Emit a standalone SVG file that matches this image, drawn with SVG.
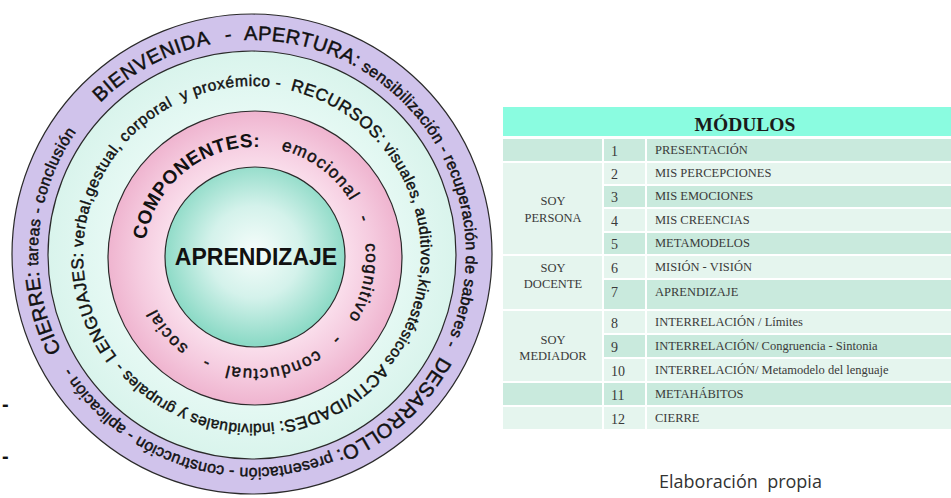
<svg xmlns="http://www.w3.org/2000/svg" width="951" height="498" viewBox="0 0 951 498">
<defs>
<radialGradient id="gTeal" cx="255" cy="252" r="92" gradientUnits="userSpaceOnUse">
<stop offset="0" stop-color="#f6fdfb"/><stop offset="0.5" stop-color="#d4f2eb"/><stop offset="1" stop-color="#8cdac6"/>
</radialGradient>
<radialGradient id="gPink" cx="255" cy="258" r="147" gradientUnits="userSpaceOnUse">
<stop offset="0.6" stop-color="#fadfec"/><stop offset="0.8" stop-color="#f5cbdf"/><stop offset="1" stop-color="#efb4cf"/>
</radialGradient>
<radialGradient id="gMint" cx="252" cy="255" r="204" gradientUnits="userSpaceOnUse">
<stop offset="0.7" stop-color="#e6f9f4"/><stop offset="1" stop-color="#d9f4ec"/>
</radialGradient>
<path id="pOuter" d="M252,468 A214,214 0 1,1 252,40 A214,214 0 1,1 252,468 A214,214 0 1,1 252,40 A214,214 0 1,1 252,468"/>
<path id="pMint" d="M252,424 A169,169 0 1,1 252,86 A169,169 0 1,1 252,424 A169,169 0 1,1 252,86 A169,169 0 1,1 252,424"/>
<path id="pPink" d="M255,369 A111,111 0 1,1 255,147 A111,111 0 1,1 255,369 A111,111 0 1,1 255,147 A111,111 0 1,1 255,369"/>
</defs>
<style>
.ring{stroke:#2a2a2a;stroke-width:1.2}
.c{font-family:"Liberation Sans",Arial,sans-serif;fill:#111111}
.h{stroke:#111111;stroke-width:0.45}
.up{font-size:20px}
.lo{font-size:16px}
.mu{font-size:17px}
.ml{font-size:15.5px}
.pk{font-size:17px;letter-spacing:1.3px}
.t{font-family:"Liberation Serif","Times New Roman",serif;fill:#3a3a3a;font-size:12.5px}
.n{font-family:"Liberation Serif","Times New Roman",serif;fill:#3a3a3a;font-size:14px}
.dk{fill:#c9eadd}
.lt{fill:#e5f5ee}
</style>
<rect width="951" height="498" fill="#ffffff"/>

<g id="ring-outer">
<circle class="ring" cx="252" cy="254" r="240" fill="#d0c3eb"/>
<text class="c h up" letter-spacing="0.6"><textPath href="#pOuter" startOffset="567.3" text-anchor="middle">BIENVENIDA</textPath></text>
<text class="c h up"><textPath href="#pOuter" startOffset="648.8" text-anchor="middle">-</textPath></text>
<text class="c h" letter-spacing="0.3"><textPath href="#pOuter" startOffset="664.1"><tspan class="up">APERTURA:</tspan><tspan class="lo"> sensibilización - recuperación de saberes -</tspan></textPath></text>
<text class="c h" letter-spacing="0.15"><textPath href="#pOuter" startOffset="1114.5"><tspan class="up">DESARROLLO:</tspan><tspan class="lo"> presentación - construcción - aplicación -</tspan></textPath></text>
<text class="c h" letter-spacing="0.4"><textPath href="#pOuter" startOffset="235.3"><tspan class="up">CIERRE:</tspan><tspan class="lo"> tareas - conclusión</tspan></textPath></text>
</g>

<g id="ring-mint">
<circle class="ring" cx="252" cy="255" r="204" fill="url(#gMint)"/>
<text class="c h" letter-spacing="0.2"><textPath href="#pMint" startOffset="914.4"><tspan class="mu">ACTIVIDADES:</tspan><tspan class="ml"> individuales y grupales - </tspan></textPath></text>
<text class="c h" letter-spacing="0.6" xml:space="preserve"><textPath href="#pMint" startOffset="156.3"><tspan class="mu">LENGUAJES:</tspan><tspan class="ml"> verbal,gestual, corporal  y proxémico - </tspan></textPath></text>
<text class="c h" letter-spacing="0.5"><textPath href="#pMint" startOffset="569.3"><tspan class="mu">RECURSOS:</tspan><tspan class="ml"> visuales, auditivos,kinestésicos</tspan></textPath></text>
</g>

<g id="ring-componentes">
<circle class="ring" cx="255" cy="258" r="147" fill="url(#gPink)"/>
<text class="c" font-size="19" font-weight="bold" letter-spacing="0.5"><textPath href="#pPink" startOffset="272.8" text-anchor="middle">COMPONENTES:</textPath></text>
<text class="c h pk"><textPath href="#pPink" startOffset="419.2" text-anchor="middle">emocional</textPath></text>
<text class="c h pk"><textPath href="#pPink" startOffset="484.3" text-anchor="middle">-</textPath></text>
<text class="c h pk"><textPath href="#pPink" startOffset="547.5" text-anchor="middle">cognitivo</textPath></text>
<text class="c h pk"><textPath href="#pPink" startOffset="610.3" text-anchor="middle">-</textPath></text>
<text class="c h pk"><textPath href="#pPink" startOffset="678.4" text-anchor="middle">conductual</textPath></text>
<text class="c h pk"><textPath href="#pPink" startOffset="745.5" text-anchor="middle">-</textPath></text>
<text class="c h pk"><textPath href="#pPink" startOffset="793.7" text-anchor="middle">social</textPath></text>
</g>

<g id="aprendizaje">
<circle class="ring" cx="255" cy="257" r="90" fill="url(#gTeal)"/>
<text class="c" x="256" y="265" font-size="23" font-weight="bold" text-anchor="middle">APRENDIZAJE</text>
</g>

<g id="dashes">
<text class="c" x="2" y="411" font-size="20" font-weight="bold">-</text>
<text class="c" x="2" y="463" font-size="20" font-weight="bold">-</text>
</g>

<g id="table">
<rect x="503" y="107" width="448" height="29" fill="#8afce0"/>
<text x="745" y="131" text-anchor="middle" font-family="Liberation Serif,'Times New Roman',serif" font-weight="bold" font-size="19.5" fill="#1a1a1a">MÓDULOS</text>
<rect class="dk" x="503" y="139" width="99" height="22"/>
<rect class="lt" x="503" y="163" width="99" height="91"/>
<rect class="lt" x="503" y="256" width="99" height="53"/>
<rect class="lt" x="503" y="311" width="99" height="70"/>
<rect class="dk" x="503" y="383" width="99" height="22"/>
<rect class="lt" x="503" y="407" width="99" height="22"/>
<rect class="dk" x="604" y="139" width="41" height="22"/><rect class="dk" x="647" y="139" width="304" height="22"/>
<rect class="lt" x="604" y="163" width="41" height="21"/><rect class="lt" x="647" y="163" width="304" height="21"/>
<rect class="dk" x="604" y="186" width="41" height="21"/><rect class="dk" x="647" y="186" width="304" height="21"/>
<rect class="lt" x="604" y="209" width="41" height="22"/><rect class="lt" x="647" y="209" width="304" height="22"/>
<rect class="dk" x="604" y="233" width="41" height="21"/><rect class="dk" x="647" y="233" width="304" height="21"/>
<rect class="lt" x="604" y="256" width="41" height="22"/><rect class="lt" x="647" y="256" width="304" height="22"/>
<rect class="dk" x="604" y="280" width="41" height="29"/><rect class="dk" x="647" y="280" width="304" height="29"/>
<rect class="lt" x="604" y="311" width="41" height="22"/><rect class="lt" x="647" y="311" width="304" height="22"/>
<rect class="dk" x="604" y="335" width="41" height="22"/><rect class="dk" x="647" y="335" width="304" height="22"/>
<rect class="lt" x="604" y="359" width="41" height="22"/><rect class="lt" x="647" y="359" width="304" height="22"/>
<rect class="dk" x="604" y="383" width="41" height="22"/><rect class="dk" x="647" y="383" width="304" height="22"/>
<rect class="lt" x="604" y="407" width="41" height="22"/><rect class="lt" x="647" y="407" width="304" height="22"/>
<text class="t" x="553" y="205" text-anchor="middle">SOY</text>
<text class="t" x="553" y="222" text-anchor="middle">PERSONA</text>
<text class="t" x="553" y="272" text-anchor="middle">SOY</text>
<text class="t" x="553" y="288" text-anchor="middle">DOCENTE</text>
<text class="t" x="553" y="344" text-anchor="middle">SOY</text>
<text class="t" x="553" y="360" text-anchor="middle">MEDIADOR</text>
<text class="n" x="611" y="156">1</text>
<text class="n" x="611" y="179">2</text>
<text class="n" x="611" y="202">3</text>
<text class="n" x="611" y="226">4</text>
<text class="n" x="611" y="249">5</text>
<text class="n" x="611" y="273">6</text>
<text class="n" x="611" y="297">7</text>
<text class="n" x="611" y="328">8</text>
<text class="n" x="611" y="352">9</text>
<text class="n" x="611" y="376">10</text>
<text class="n" x="611" y="400">11</text>
<text class="n" x="611" y="424">12</text>
<text class="t" x="655" y="154">PRESENTACIÓN</text>
<text class="t" x="655" y="177">MIS PERCEPCIONES</text>
<text class="t" x="655" y="200">MIS EMOCIONES</text>
<text class="t" x="655" y="224">MIS CREENCIAS</text>
<text class="t" x="655" y="247">METAMODELOS</text>
<text class="t" x="655" y="271">MISIÓN - VISIÓN</text>
<text class="t" x="655" y="296">APRENDIZAJE</text>
<text class="t" x="655" y="326">INTERRELACIÓN / Límites</text>
<text class="t" x="655" y="350">INTERRELACIÓN/ Congruencia - Sintonia</text>
<text class="t" x="655" y="374">INTERRELACIÓN/ Metamodelo del lenguaje</text>
<text class="t" x="655" y="398">METAHÁBITOS</text>
<text class="t" x="655" y="422">CIERRE</text>
</g>

<text id="credit" x="659" y="488" font-family="'Open Sans',sans-serif" font-size="18" fill="#333333" xml:space="preserve">Elaboración  propia</text>
</svg>
